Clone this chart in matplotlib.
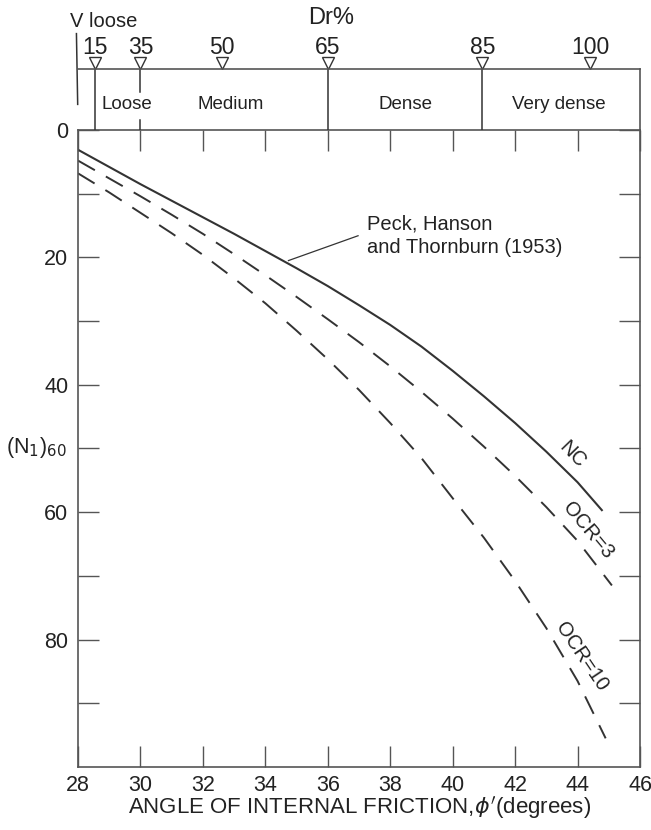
import numpy as np
import matplotlib
matplotlib.use("Agg")
import matplotlib.pyplot as plt

plt.rcParams['font.family'] = ['Liberation Sans', 'DejaVu Sans']
plt.rcParams['mathtext.fontset'] = 'dejavusans'

INK = '#222222'
LINE = '#333333'
FRAME = '#555555'

# friction angle (deg) vs corrected blow count (N1)60
phi_nc = [28, 29, 30, 31, 32, 33, 34, 35, 36, 37, 38, 39, 40, 41, 42, 43, 44, 44.8]
n_nc = [3.1, 5.8, 8.5, 11.1, 13.7, 16.3, 19.0, 21.7, 24.5, 27.5, 30.6, 34.0,
        37.8, 41.8, 46.0, 50.5, 55.3, 59.8]

phi_ocr3 = [28, 29, 30, 31, 32, 33, 34, 35, 36, 37, 38, 39, 40, 41, 42, 43, 44, 45.1]
n_ocr3 = [4.8, 7.6, 10.4, 13.3, 16.3, 19.5, 22.8, 26.2, 29.7, 33.3, 37.1, 41.1,
          45.3, 49.7, 54.3, 59.2, 64.5, 71.5]

phi_ocr10 = [28, 29, 30, 31, 32, 33, 34, 35, 36, 37, 38, 39, 40, 41, 42, 43, 44, 44.9]
n_ocr10 = [6.8, 9.8, 13.0, 16.2, 19.6, 23.3, 27.2, 31.5, 36.0, 40.8, 46.0, 51.5,
           57.8, 64.0, 70.8, 78.2, 86.5, 95.5]

# relative density scale along the top
dr_values = [15, 35, 50, 65, 85, 100]
dr_phi = [28.55, 30.0, 32.6, 36.0, 40.95, 44.4]
classes = ['Loose', 'Medium', 'Dense', 'Very dense']
class_phi = [29.55, 32.9, 38.5, 43.4]

x_ticks = [28, 30, 32, 34, 36, 38, 40, 42, 44, 46]
y_ticks = [0, 10, 20, 30, 40, 50, 60, 70, 80, 90]
y_labels = ['0', '', '20', '', '40', '', '60', '', '80', '']

W, H = 651, 830
fig = plt.figure(figsize=(W / 100, H / 100), dpi=100)
left, right, top, bottom = 78, 640, 130, 767
ax = fig.add_axes([left / W, 1 - bottom / H, (right - left) / W, (bottom - top) / H])
band = fig.add_axes([left / W, 1 - top / H, (right - left) / W, 61 / H])

# curves
ax.plot(phi_nc, n_nc, color=LINE, lw=1.5, solid_capstyle='butt')
ax.plot(phi_ocr3, n_ocr3, color=LINE, lw=1.4, dashes=(10, 6.5))
ax.plot(phi_ocr10, n_ocr10, color=LINE, lw=1.4, dashes=(10, 6.5))

ax.text(43.85, 51.0, 'NC', rotation=-46, fontsize=14.5, color=INK,
        ha='center', va='center', rotation_mode='anchor')
ax.text(44.35, 62.9, 'OCR=3', rotation=-50, fontsize=14.5, color=INK,
        ha='center', va='center', rotation_mode='anchor')
ax.text(44.12, 82.7, 'OCR=10', rotation=-56, fontsize=14.5, color=INK,
        ha='center', va='center', rotation_mode='anchor')

ax.text(37.26, 16.6, 'Peck, Hanson\nand Thornburn (1953)', fontsize=14.5, color=INK,
        ha='left', va='center', linespacing=1.3)
ax.plot([34.74, 36.97], [20.5, 16.6], color=LINE, lw=0.9)

ax.set_xlim(28, 46)
ax.set_ylim(100, 0)
ax.set_xticks(x_ticks)
ax.set_xticklabels([str(v) for v in x_ticks])
ax.set_yticks(y_ticks)
ax.set_yticklabels(y_labels)
ax.tick_params(direction='in', length=15, width=1, color=FRAME,
               top=True, right=True, labelsize=15.5, labelcolor=INK)
ax.tick_params(axis='x', pad=6)
ax.tick_params(axis='y', pad=7)
for s in ax.spines.values():
    s.set_color(FRAME)
    s.set_linewidth(1.2)

fig.text(6 / W, 1 - 447 / H, '(N$_1$)$_{60}$', fontsize=15.5, color=INK,
         ha='left', va='center')
fig.text(360 / W, 1 - 808 / H,
         r"ANGLE OF INTERNAL FRICTION,$\phi^{\prime}$(degrees)",
         fontsize=16, color=INK, ha='center', va='center')

# density band
band.set_xlim(28, 46)
band.set_ylim(0, 1)
band.set_xticks([])
band.set_yticks([])
band.patch.set_alpha(0)
band.spines['left'].set_visible(False)
band.spines['bottom'].set_visible(False)
for s in ('top', 'right'):
    band.spines[s].set_color(FRAME)
    band.spines[s].set_linewidth(1.2)

for phi in (dr_phi[0], dr_phi[3], dr_phi[4]):
    band.plot([phi, phi], [0, 1], color=LINE, lw=1.1)
band.plot([dr_phi[1], dr_phi[1]], [0.62, 1], color=LINE, lw=1.1)
band.plot([dr_phi[1], dr_phi[1]], [0, 0.16], color=LINE, lw=1.1)

band.plot(dr_phi, [1.1] * len(dr_phi), linestyle='none', marker='v', ms=8,
          mfc='white', mec=LINE, mew=1, clip_on=False)
for phi, dr in zip(dr_phi, dr_values):
    band.text(phi, 1.35, str(dr), fontsize=16.5, color=INK, ha='center', va='center')
band.text(36.1, 1.84, 'Dr%', fontsize=17, color=INK, ha='center', va='center')
band.text(27.75, 1.78, 'V loose', fontsize=14.5, color=INK, ha='left', va='center')
band.plot([27.95, 27.99], [1.58, 0.42], color=LINE, lw=1.1, clip_on=False)

for phi, name in zip(class_phi, classes):
    band.text(phi, 0.42, name, fontsize=13.5, color=INK, ha='center', va='center')

fig.savefig('out.png', dpi=100)
